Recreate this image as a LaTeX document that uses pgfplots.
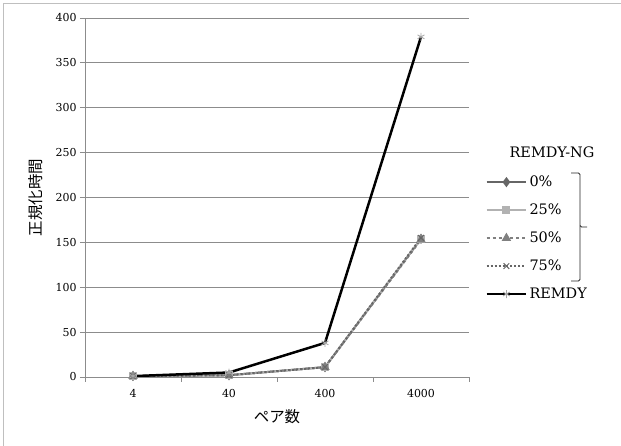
\documentclass[border=0pt]{standalone}
\usepackage{fontspec}
\setmainfont{DejaVu Serif}
\newfontfamily\jp{Noto Sans CJK JP}
\usepackage{pgfplots}
\pgfplotsset{compat=1.18}
\begin{document}
\begin{tikzpicture}
\useasboundingbox (-85bp,-69bp) rectangle (536bp,377bp);
\draw[black!25, line width=0.8pt] (-82bp,-69bp) rectangle (536bp,374bp);
\begin{axis}[
  name=ax, at={(0,0)}, anchor=south west,
  scale only axis, width=384bp, height=359bp,
  xmin=-0.5, xmax=3.5, ymin=0, ymax=400,
  xtick={-0.5,0.5,1.5,2.5,3.5}, xticklabels={},
  extra x ticks={0,1,2,3}, extra x tick labels={4,40,400,4000},
  extra x tick style={major tick length=0pt, grid=none},
  ytick={0,50,...,400},
  axis x line*=bottom, axis y line*=left,
  axis line style={black!45, line width=0.8pt},
  every tick/.style={black!45, line width=0.8pt},
  tick align=outside, major tick length=5bp,
  ymajorgrids, major grid style={black!45, line width=0.8pt},
  xmajorgrids=false,
  tick label style={font=\fontsize{11}{13}\selectfont},
  xticklabel style={yshift=-9bp},
  /pgf/number format/assume math mode=true,
  xlabel={\jp ペア数}, ylabel={\jp 正規化時間},
  label style={font=\fontsize{15.5}{17}\selectfont},
  xlabel style={yshift=0bp},
  ylabel style={yshift=6bp},
  legend style={at={(1.042,0.566)}, anchor=north west, draw=none, fill=none,
    font=\fontsize{14.5}{16}\selectfont, row sep=11.8bp, inner sep=0pt},
  legend cell align=left,
  legend image code/.code={\draw[mark repeat=2,mark phase=2] plot coordinates {(0cm,0cm) (0.7cm,0cm) (1.4cm,0cm)};},
]
\addplot[black!60, line width=2pt, mark=diamond*, mark size=3.5pt, mark options={solid, fill=black!60}]
  coordinates {(0,1) (1,2) (2,11) (3,154)};
\addlegendentry{0\%}
\addplot[black!30, line width=2pt, mark=square*, mark size=3pt, mark options={solid, fill=black!30}]
  coordinates {(0,1) (1,2) (2,11) (3,154)};
\addlegendentry{25\%}
\addplot[black!50, line width=2pt, dashed, mark=triangle*, mark size=3.5pt, mark options={solid, fill=black!50}]
  coordinates {(0,1) (1,2) (2,11) (3,153)};
\addlegendentry{50\%}
\addplot[black!60, line width=2pt, dotted, mark=x, mark size=4pt, mark options={solid, line width=1pt}]
  coordinates {(0,1) (1,2) (2,11) (3,155)};
\addlegendentry{75\%}
\addplot[black, line width=2.5pt, mark=asterisk, mark size=4pt, mark options={solid, black!35, line width=0.8pt}]
  coordinates {(0,1) (1,5) (2,38) (3,379)};
\addlegendentry{REMDY}
\end{axis}
\node[font=\fontsize{14.5}{16}\selectfont] at (467bp,225bp) {REMDY-NG};
\draw[line width=0.8pt, black!85, rounded corners=1.5bp]
  (486bp,204bp) -- (495bp,204bp) -- (495bp,150bp) -- (502bp,150bp);
\draw[line width=0.8pt, black!85, rounded corners=1.5bp]
  (486bp,96bp) -- (495bp,96bp) -- (495bp,151bp);
\end{tikzpicture}
\end{document}
